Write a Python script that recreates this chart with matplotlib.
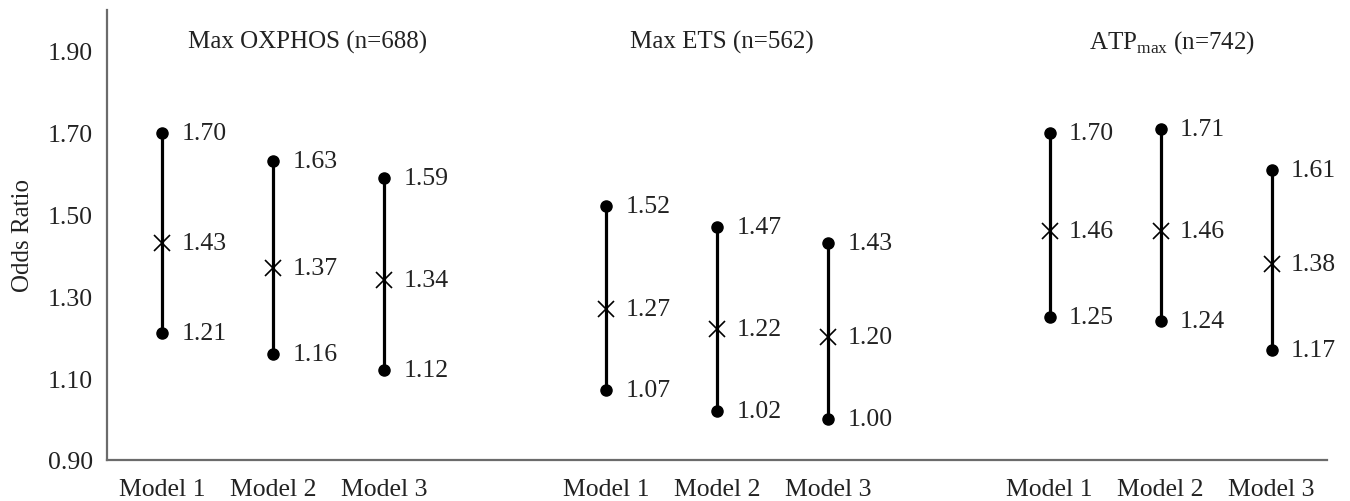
import matplotlib
matplotlib.use("Agg")
import matplotlib.pyplot as plt
import numpy as np

plt.rcParams["font.family"] = ["Liberation Serif", "DejaVu Serif"]
plt.rcParams["mathtext.fontset"] = "custom"
plt.rcParams["mathtext.rm"] = "Liberation Serif"

# ── Data ─────────────────────────────────────────────────────────────────────
# 11 category slots: three models per outcome, blank slots between outcomes
categories = ["Model 1", "Model 2", "Model 3", "",
              "Model 1", "Model 2", "Model 3", "",
              "Model 1", "Model 2", "Model 3"]
slots = [0, 1, 2, 4, 5, 6, 8, 9, 10]
or_est = [1.43, 1.37, 1.34, 1.27, 1.22, 1.20, 1.46, 1.46, 1.38]
ci_low = [1.21, 1.16, 1.12, 1.07, 1.02, 1.00, 1.25, 1.24, 1.17]
ci_high = [1.70, 1.63, 1.59, 1.52, 1.47, 1.43, 1.70, 1.71, 1.61]
titles = ["Max OXPHOS (n=688)", "Max ETS (n=562)", r"ATP$_{\mathrm{max}}$ (n=742)"]
title_x = [1.31, 5.04, 9.10]
yticks = [0.90, 1.10, 1.30, 1.50, 1.70, 1.90]

text_col = "#222222"
fs = 18.5

fig = plt.figure(figsize=(13.5, 5.02), dpi=100)
ax = fig.add_axes([107 / 1350, 41 / 502, 1220 / 1350, 450 / 502])

for x, lo, mid, hi in zip(slots, ci_low, or_est, ci_high):
    ax.plot([x, x], [lo, hi], color="black", lw=2.3, solid_capstyle="butt", zorder=2)
    ax.plot([x, x], [lo, hi], "o", color="black", ms=8, zorder=3)
    ax.plot(x, mid, "x", color="black", ms=11, mew=1.2, zorder=4)
    for v in (lo, mid, hi):
        ax.annotate(f"{v:.2f}", (x, v), xytext=(14, 0), textcoords="offset points",
                    ha="left", va="center", fontsize=fs, color=text_col)

for tx, t in zip(title_x, titles):
    ax.text(tx, 1.922, t, ha="center", va="center", fontsize=18, color=text_col)

ax.set_xlim(-0.5, 10.5)
ax.set_ylim(0.90, 2.0)
ax.set_xticks(range(len(categories)))
ax.set_xticklabels(categories)
ax.set_yticks(yticks)
ax.set_yticklabels([f"{v:.2f}" for v in yticks])
ax.tick_params(axis="both", length=0, labelsize=fs, colors=text_col)
ax.tick_params(axis="x", pad=13)
ax.tick_params(axis="y", pad=10)
ax.set_ylabel("Odds Ratio", fontsize=18, color=text_col, labelpad=10)

for s in ("top", "right"):
    ax.spines[s].set_visible(False)
for s in ("left", "bottom"):
    ax.spines[s].set_color("#6b6b6b")
    ax.spines[s].set_linewidth(1.6)

fig.savefig("out.png", dpi=100)
